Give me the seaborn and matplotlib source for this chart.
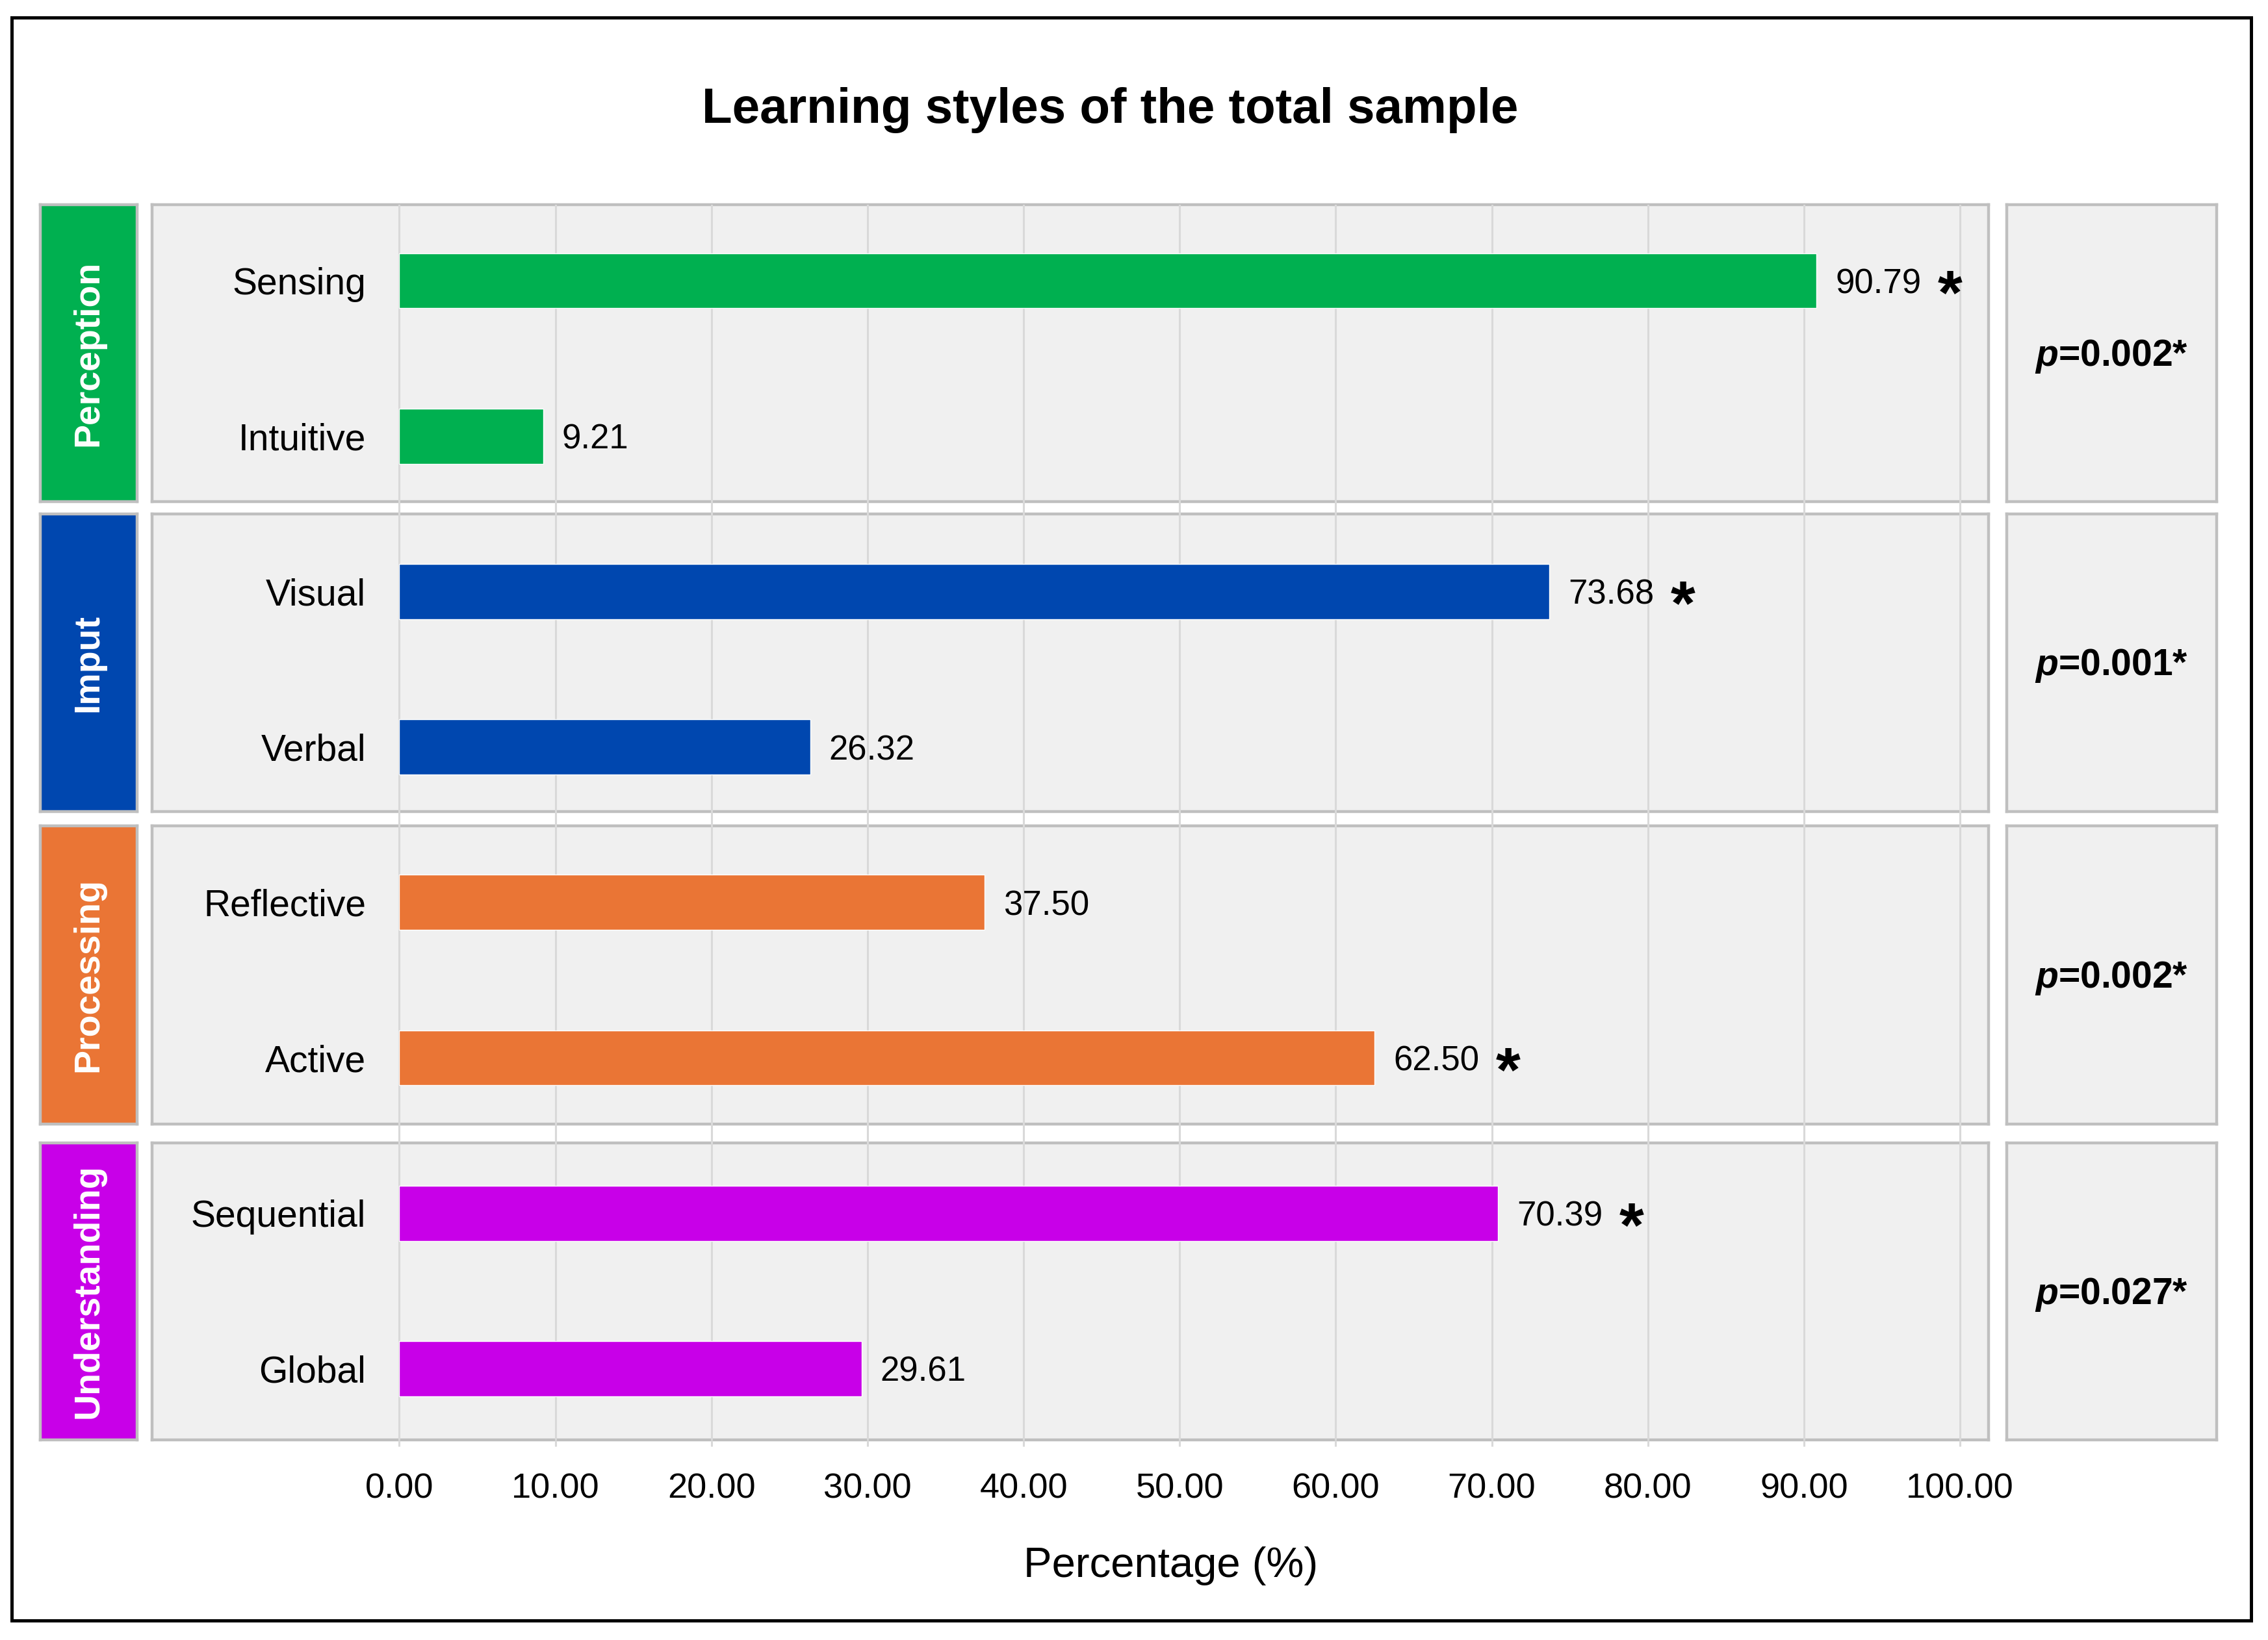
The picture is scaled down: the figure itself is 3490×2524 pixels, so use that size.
import matplotlib
matplotlib.use("Agg")
import matplotlib.patches as mpatches
import matplotlib.pyplot as plt
import pandas as pd
import seaborn as sns

# data
styles = ["Sensing", "Intuitive", "Visual", "Verbal",
          "Reflective", "Active", "Sequential", "Global"]
percentages = [90.79, 9.21, 73.68, 26.32, 37.50, 62.50, 70.39, 29.61]
dimensions = ["Perception", "Perception", "Imput", "Imput",
              "Processing", "Processing", "Understanding", "Understanding"]
significant = [True, False, True, False, False, True, True, False]

dimension_names = ["Perception", "Imput", "Processing", "Understanding"]
p_values = ["0.002", "0.001", "0.002", "0.027"]
dimension_colors = ["#00B050", "#0047AF", "#EA7535", "#C800E8"]
x_ticks = [0, 10, 20, 30, 40, 50, 60, 70, 80, 90, 100]

# layout in pixels of the 3491x2524 canvas
W, H = 3491, 2524
row_bounds = [(315, 772), (791, 1249), (1271, 1730), (1759, 2216)]
strip_x = (62, 211)
main_x = (234, 3060)
pval_x = (3088, 3411)
panel_grey = "#F0F0F0"
border_grey = "#BFBFBF"
grid_grey = "#D9D9D9"

sns.set_style("white")
plt.rcParams["font.family"] = ["Liberation Sans", "DejaVu Sans"]
plt.rcParams["mathtext.fontset"] = "custom"
plt.rcParams["mathtext.it"] = "Liberation Sans:italic:bold"
plt.rcParams["mathtext.rm"] = "Liberation Sans:bold"
plt.rcParams["text.color"] = "black"
plt.rcParams["axes.labelcolor"] = "black"
plt.rcParams["xtick.labelcolor"] = "black"
plt.rcParams["ytick.labelcolor"] = "black"


def fig_rect(x0, x1, y0, y1):
    return [x0 / W, 1 - y1 / H, (x1 - x0) / W, (y1 - y0) / H]


def boxed_axes(fig, xs, ys, face):
    box = fig.add_axes(fig_rect(xs[0], xs[1], ys[0], ys[1]), zorder=0)
    box.set_facecolor(face)
    box.set_xticks([])
    box.set_yticks([])
    for spine in box.spines.values():
        spine.set_visible(True)
        spine.set_color(border_grey)
        spine.set_linewidth(3.2)
    return box


fig = plt.figure(figsize=(W / 100, H / 100), dpi=100)

for k, ys in enumerate(row_bounds):
    strip = boxed_axes(fig, strip_x, ys, dimension_colors[k])
    strip.text(0.5, 0.5, dimension_names[k], transform=strip.transAxes,
               rotation=90, ha="center", va="center", color="white",
               fontsize=40, fontweight="bold")
    boxed_axes(fig, main_x, ys, panel_grey)
    pbox = boxed_axes(fig, pval_x, ys, panel_grey)
    pbox.text(0.5, 0.49, "$p$=" + p_values[k] + "*", transform=pbox.transAxes,
              ha="center", va="center", fontsize=41, fontweight="bold")

df = pd.DataFrame({"style": styles, "pct": percentages, "dimension": dimensions})
palette = dict(zip(dimension_names, dimension_colors))

ax = fig.add_axes(fig_rect(main_x[0], main_x[1], row_bounds[0][0], row_bounds[-1][1]),
                  zorder=2)
ax.patch.set_visible(False)
sns.barplot(data=df, x="pct", y="style", hue="dimension", palette=palette,
            dodge=False, width=0.355, saturation=1, legend=False, ax=ax)

ax.set_xlim(-15.84, 101.83)
ax.set_ylim(7.458, -0.489)
ax.set_xticks(x_ticks)
ax.set_xticklabels([f"{t:.2f}" for t in x_ticks])
ax.grid(axis="x", color=grid_grey, linewidth=2.2)
ax.grid(axis="y", visible=False)
ax.set_axisbelow(True)
for spine in ax.spines.values():
    spine.set_visible(False)
ax.tick_params(axis="x", bottom=True, length=7, width=2.2, color=grid_grey,
               pad=29, labelsize=39, labelcolor="black")
ax.tick_params(axis="y", left=False, length=0, pad=-237, labelsize=41,
               labelcolor="black")
ax.set_ylabel("")
ax.set_xlabel("Percentage (%)", fontsize=47, color="black")
ax.xaxis.set_label_coords(0.5548, -0.0863)

for i, (val, sig) in enumerate(zip(percentages, significant)):
    ax.annotate(f"{val:.2f}", xy=(val, i), xytext=(21, 0),
                textcoords="offset points", ha="left", va="center_baseline",
                fontsize=38, color="black")
    if sig:
        ax.annotate("*", xy=(val, i), xytext=(148, -36.5),
                    textcoords="offset points", ha="center", va="baseline",
                    fontsize=70, fontweight="bold", color="black")

fig.text(1708 / W, 1 - 189 / H, "Learning styles of the total sample",
         ha="center", va="baseline", fontsize=55, fontweight="bold",
         color="black")

fig.add_artist(mpatches.Rectangle((18 / W, 1 - 2494 / H), (3464 - 18) / W,
                                  (2494 - 27) / H, transform=fig.transFigure,
                                  fill=False, edgecolor="black", linewidth=3.6))

fig.savefig("out.png", dpi=100)
